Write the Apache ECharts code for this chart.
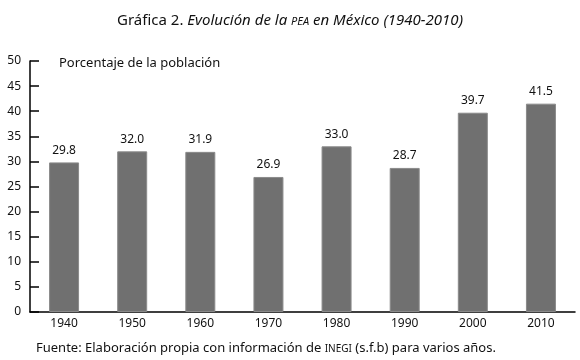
<!DOCTYPE html>
<html>
<head>
<meta charset="utf-8">
<script src="https://cdn.jsdelivr.net/npm/echarts@6/dist/echarts.min.js"></script>
<style>
  html, body { margin: 0; padding: 0; background: #fff; }
  #main { width: 580px; height: 360px; }
</style>
</head>
<body>
<div id="main"></div>
<script>
// datos
const years = ['1940', '1950', '1960', '1970', '1980', '1990', '2000', '2010'];
const pea = [29.8, 32.0, 31.9, 26.9, 33.0, 28.7, 39.7, 41.5];
const yTicks = [0, 5, 10, 15, 20, 25, 30, 35, 40, 45, 50];

const font = 'Noto Sans';
const chart = echarts.init(document.getElementById('main'));

const option = {
  backgroundColor: '#fff',
  animation: false,
  title: [
    {
      text: '{n|Gráfica 2. }{i|Evolución de la }{s|PEA}{i| en México (1940-2010)}',
      left: 'center',
      top: 8,
      textStyle: {
        fontWeight: 'normal',
        rich: {
          n: { fontFamily: font, fontSize: 15, fontWeight: 'normal', color: '#111', verticalAlign: 'bottom' },
          i: { fontFamily: font, fontSize: 15, fontWeight: 'normal', fontStyle: 'italic', color: '#111', verticalAlign: 'bottom' },
          s: { fontFamily: font, fontSize: 11, fontWeight: 'normal', fontStyle: 'italic', color: '#111', verticalAlign: 'bottom', padding: [0, 0, 1, 0] }
        }
      }
    },
    {
      text: '{n|Fuente: Elaboración propia con información de }{s|INEGI}{n| (s.f.b) para varios años.}',
      left: 31,
      top: 337,
      textStyle: {
        fontWeight: 'normal',
        rich: {
          n: { fontFamily: font, fontSize: 13, fontWeight: 'normal', color: '#111', verticalAlign: 'bottom' },
          s: { fontFamily: font, fontSize: 10, fontWeight: 'normal', color: '#111', verticalAlign: 'bottom', padding: [0, 0, 1, 0] }
        }
      }
    },
    {
      text: 'Porcentaje de la población',
      left: 54,
      top: 52,
      textStyle: { fontFamily: font, fontSize: 13, fontWeight: 'normal', color: '#111' }
    }
  ],
  grid: { left: 30, right: 5, top: 61, bottom: 48 },
  xAxis: {
    type: 'category',
    data: years,
    axisLine: { lineStyle: { color: '#000', width: 1.5 } },
    axisTick: { inside: true, length: 5, lineStyle: { color: '#000', width: 1.5 } },
    axisLabel: { fontFamily: font, fontSize: 12, color: '#111', margin: 6 }
  },
  yAxis: {
    type: 'value',
    min: 0,
    max: 50,
    interval: 5,
    axisLine: { show: true, lineStyle: { color: '#000', width: 1.5 } },
    axisTick: { show: true, inside: true, length: 9, lineStyle: { color: '#000', width: 1.5 } },
    axisLabel: {
      fontFamily: font, fontSize: 12, color: '#111', margin: 9,
      formatter: v => yTicks.includes(v) ? String(v) : ''
    },
    splitLine: { show: false }
  },
  series: [
    {
      type: 'bar',
      data: pea,
      barWidth: 30,
      itemStyle: { color: '#707070', borderColor: '#8a8a8a', borderWidth: 1 },
      label: {
        show: true,
        position: 'top',
        distance: 6,
        fontFamily: font,
        fontSize: 12,
        color: '#111',
        formatter: p => p.value.toFixed(1)
      }
    }
  ]
};

chart.setOption(option);
</script>
</body>
</html>
